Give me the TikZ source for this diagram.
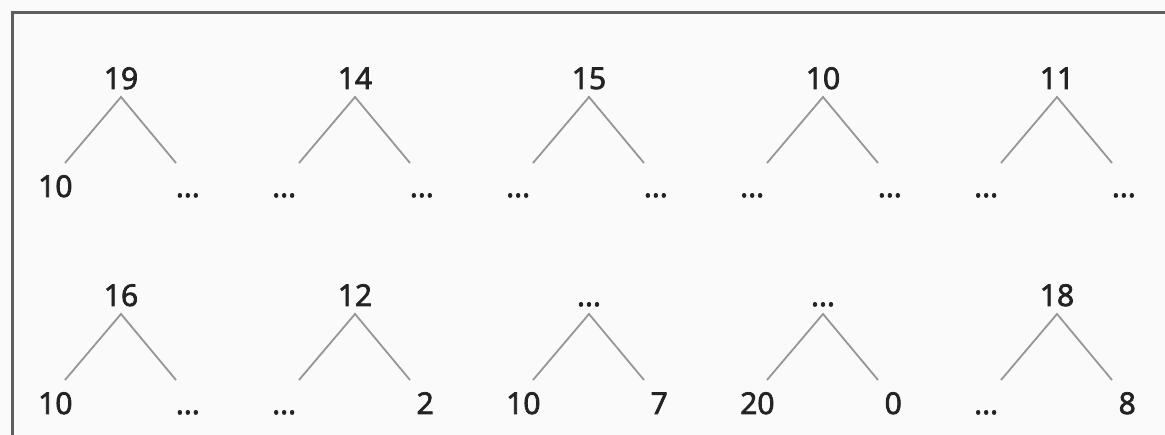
\documentclass[tikz,border=0pt]{standalone}
\usepackage{fontspec}
\setmainfont{Open Sans}
\newfontfamily\semib{Open Sans}[FakeBold=2.6]
\definecolor{bgc}{RGB}{250,250,250}
\definecolor{txt}{RGB}{35,35,35}
\definecolor{brc}{RGB}{150,150,150}
\definecolor{frc}{RGB}{95,95,95}
\newcommand{\mytree}[6]{%
  \node[lbl, anchor=base] (#1r) at (#2,#3) {#4};
  \coordinate (#1a) at ([yshift=-8pt]#1r.base);
  \coordinate (#1L) at ([xshift=-56pt,yshift=-74pt]#1r.base);
  \coordinate (#1R) at ([xshift=55pt,yshift=-74pt]#1r.base);
  \node[lbl, anchor=base west] (#1cl) at ([xshift=-83pt,yshift=-108pt]#1r.base) {#5};
  \node[lbl, anchor=base east] (#1cr) at ([xshift=79pt,yshift=-108pt]#1r.base) {#6};
  \draw[branch] (#1L) -- (#1a) -- (#1R);
}
\begin{document}
\begin{tikzpicture}[x=1pt,y=-1pt,
  lbl/.style={inner sep=0pt, text=txt, font=\semib\fontsize{30}{30}\selectfont},
  branch/.style={draw=brc, line width=1.8pt, line join=miter},
  frame/.style={draw=frc, line width=3pt}]
\useasboundingbox (0,0) rectangle (1165,435);
\fill[bgc] (0,0) rectangle (1165,435);
\draw[frame] (12,435) -- (12,13) -- (1165,13);
\mytree{a}{121}{89}{19}{10}{...}
\mytree{b}{355}{89}{14}{...}{...}
\mytree{c}{589}{89}{15}{...}{...}
\mytree{d}{823}{89}{10}{...}{...}
\mytree{e}{1057}{89}{11}{...}{...}
\mytree{f}{121}{306}{16}{10}{...}
\mytree{g}{355}{306}{12}{...}{2}
\mytree{h}{589}{306}{...}{10}{7}
\mytree{i}{823}{306}{...}{20}{0}
\mytree{j}{1057}{306}{18}{...}{8}
\end{tikzpicture}
\end{document}
